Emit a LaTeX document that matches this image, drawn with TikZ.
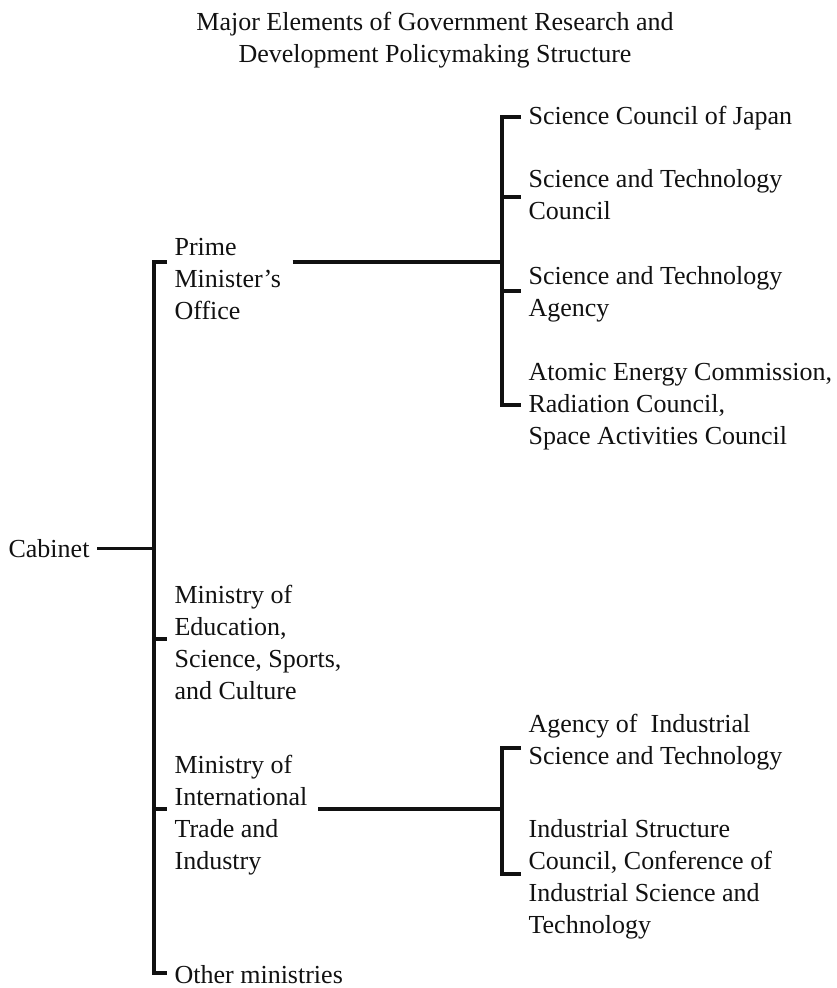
\documentclass[tikz,border=0pt]{standalone}
\usepackage{fontspec}
\setmainfont{Liberation Serif}
\usetikzlibrary{positioning, calc}
\definecolor{cink}{HTML}{111111}
\tikzset{
  every picture/.style={line width=1.6pt},
  txt/.style={anchor=base west, align=left, inner xsep=3pt, inner ysep=0pt, text=cink,
    font=\fontsize{13}{16}\selectfont},
  title/.style={anchor=base, align=center, inner sep=0pt, text=cink,
    font=\fontsize{13}{16}\selectfont},
  link/.style={draw=cink, line width=1.6pt, line cap=butt},
}

\begin{document}
\begin{tikzpicture}[x=0.5pt, y=-0.5pt]
  \useasboundingbox (0,0) rectangle (836,988);
  % multi-line nodes sit on the baseline of their last line
  \node[title] (head) at (435,63) {Major Elements of Government Research and\\Development Policymaking Structure};

  % ---- left side
  \node[txt] (cab)   at (1,557)   {Cabinet};
  \node[txt] (pm)    at (167,320) {Prime\\Minister's\\Office};
  \node[txt] (edu)   at (167,699) {Ministry of\\Education,\\Science, Sports,\\and Culture};
  \node[txt] (miti)  at (167,869) {Ministry of\\International\\Trade and\\Industry};
  \node[txt] (other) at (167,983) {Other ministries};

  % ---- prime minister's office
  \node[txt] (scj)  at (521,125) {Science Council of Japan};
  \node[txt] (stc)  at (521,220) {Science and Technology\\Council};
  \node[txt] (sta)  at (521,317) {Science and Technology\\Agency};
  \node[txt] (atom) at (521,444) {Atomic Energy Commission,\\Radiation Council,\\Space Activities Council};

  % ---- international trade and industry
  \node[txt] (aist) at (521,764) {Agency of\ \ Industrial\\Science and Technology};
  \node[txt] (isc)  at (521,933) {Industrial Structure\\Council, Conference of\\Industrial Science and\\Technology};

  \coordinate (trunk top) at (154,262);
  \coordinate (trunk bot) at (154,973);
  \coordinate (edu j)  at (154,639);
  \coordinate (miti j) at (154,809);
  \coordinate (up top) at (502,117);
  \coordinate (up in)  at (502,262);
  \coordinate (up bot) at (502,405);
  \coordinate (stc j)  at (502,197);
  \coordinate (sta j)  at (502,291);
  \coordinate (lo top) at (502,748);
  \coordinate (lo in)  at (502,809);
  \coordinate (lo bot) at (502,874);

  \draw[link] (cab.east) -- (cab.east -| trunk top);
  \draw[link] (pm.west |- trunk top) -- (trunk top) -- (trunk bot) -- (other.west |- trunk bot);
  \draw[link] (edu j) -- (edu.west |- edu j);
  \draw[link] (miti j) -- (miti.west |- miti j);

  \draw[link, shorten <=2pt] (pm.east |- up in) -- (up in);
  \draw[link] (scj.west |- up top) -- (up top) -- (up bot) -- (atom.west |- up bot);
  \draw[link] (stc j) -- (stc.west |- stc j);
  \draw[link] (sta j) -- (sta.west |- sta j);

  \draw[link, shorten <=1.5pt] (miti.east |- lo in) -- (lo in);
  \draw[link] (aist.west |- lo top) -- (lo top) -- (lo bot) -- (isc.west |- lo bot);
\end{tikzpicture}
\end{document}
